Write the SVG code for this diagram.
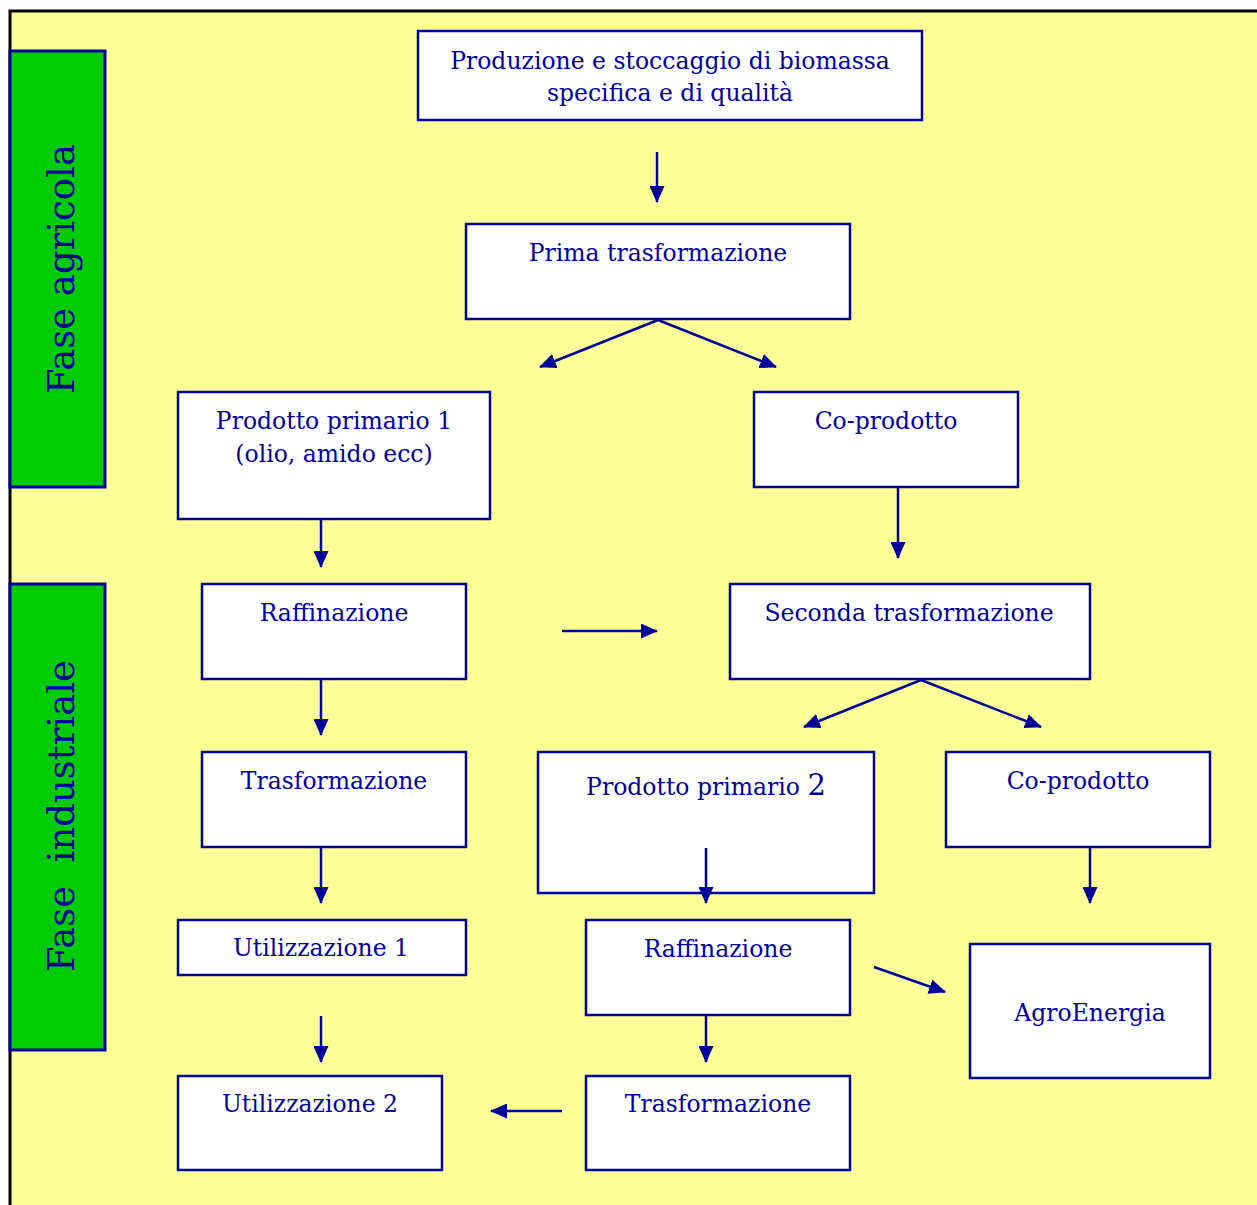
<svg xmlns="http://www.w3.org/2000/svg" width="1257" height="1205" viewBox="0 0 1257 1205">
<style>
.bg{fill:#FFFF99;}
.box{fill:#FFFFFF;stroke:#000099;stroke-width:2.5;}
.bar{fill:#00CC00;stroke:#000099;stroke-width:3;}
.t{font-family:"DejaVu Serif",serif;font-size:23.5px;fill:#000099;text-anchor:middle;}
.v{font-family:"DejaVu Serif",serif;font-size:37px;fill:#000099;text-anchor:middle;white-space:pre;}
.c{stroke:#000099;stroke-width:2.5;fill:none;marker-end:url(#ah);}
</style>
<defs>
<marker id="ah" markerUnits="userSpaceOnUse" markerWidth="17" markerHeight="15" refX="16" refY="7.5" orient="auto">
<path d="M0,0 L17,7.5 L0,15 Z" fill="#000099"/>
</marker>
</defs>
<rect x="0" y="0" width="1257" height="1205" fill="#FFFFFF"/>
<rect class="bg" x="10" y="11" width="1247" height="1194"/>
<path d="M10,1205 L10,11 L1257,11" fill="none" stroke="#000000" stroke-width="3"/>
<g id="fase-agricola">
<rect class="bar" x="10" y="51" width="95" height="436"/>
<text class="v" transform="translate(74,269) rotate(-90)">Fase agricola</text>
</g>
<g id="fase-industriale">
<rect class="bar" x="10" y="584" width="95" height="466"/>
<text class="v" transform="translate(74,816) rotate(-90)" xml:space="preserve">Fase  industriale</text>
</g>
<g id="n1"><rect class="box" x="418" y="31" width="504" height="89"/>
<text class="t" x="670" y="69">Produzione e stoccaggio di biomassa</text>
<text class="t" x="670" y="101">specifica e di qualità</text></g>
<g id="n2"><rect class="box" x="466" y="224" width="384" height="95"/>
<text class="t" x="658" y="261">Prima trasformazione</text></g>
<g id="n3"><rect class="box" x="178" y="392" width="312" height="127"/>
<text class="t" x="334" y="429">Prodotto primario 1</text>
<text class="t" x="334" y="462">(olio, amido ecc)</text></g>
<g id="n4"><rect class="box" x="754" y="392" width="264" height="95"/>
<text class="t" x="886" y="429">Co-prodotto</text></g>
<g id="n5"><rect class="box" x="202" y="584" width="264" height="95"/>
<text class="t" x="334" y="621">Raffinazione</text></g>
<g id="n6"><rect class="box" x="730" y="584" width="360" height="95"/>
<text class="t" x="909" y="621">Seconda trasformazione</text></g>
<g id="n7"><rect class="box" x="202" y="752" width="264" height="95"/>
<text class="t" x="334" y="789">Trasformazione</text></g>
<g id="n8"><rect class="box" x="538" y="752" width="336" height="141"/>
<text class="t" x="706" y="795">Prodotto primario <tspan font-size="29">2</tspan></text></g>
<g id="n9"><rect class="box" x="946" y="752" width="264" height="95"/>
<text class="t" x="1078" y="789">Co-prodotto</text></g>
<g id="n10"><rect class="box" x="178" y="920" width="288" height="55"/>
<text class="t" x="321" y="956">Utilizzazione 1</text></g>
<g id="n11"><rect class="box" x="586" y="920" width="264" height="95"/>
<text class="t" x="718" y="957">Raffinazione</text></g>
<g id="n12"><rect class="box" x="970" y="944" width="240" height="134"/>
<text class="t" x="1090" y="1021">AgroEnergia</text></g>
<g id="n13"><rect class="box" x="178" y="1076" width="264" height="94"/>
<text class="t" x="310" y="1112">Utilizzazione 2</text></g>
<g id="n14"><rect class="box" x="586" y="1076" width="264" height="94"/>
<text class="t" x="718" y="1112">Trasformazione</text></g>
<g id="connectors">
<path class="c" d="M657,152 L657,202"/>
<path class="c" d="M658,320 L540,367"/>
<path class="c" d="M658,320 L776,367"/>
<path class="c" d="M321,520 L321,567"/>
<path class="c" d="M898,488 L898,558"/>
<path class="c" d="M562,631 L657,631"/>
<path class="c" d="M921,680 L804,727"/>
<path class="c" d="M921,680 L1041,727"/>
<path class="c" d="M321,680 L321,735"/>
<path class="c" d="M321,848 L321,903"/>
<path class="c" d="M706,848 L706,903"/>
<path class="c" d="M1090,848 L1090,903"/>
<path class="c" d="M874,967 L945,992"/>
<path class="c" d="M321,1016 L321,1062"/>
<path class="c" d="M706,1016 L706,1062"/>
<path class="c" d="M562,1111 L491,1111"/>
</g>
</svg>
